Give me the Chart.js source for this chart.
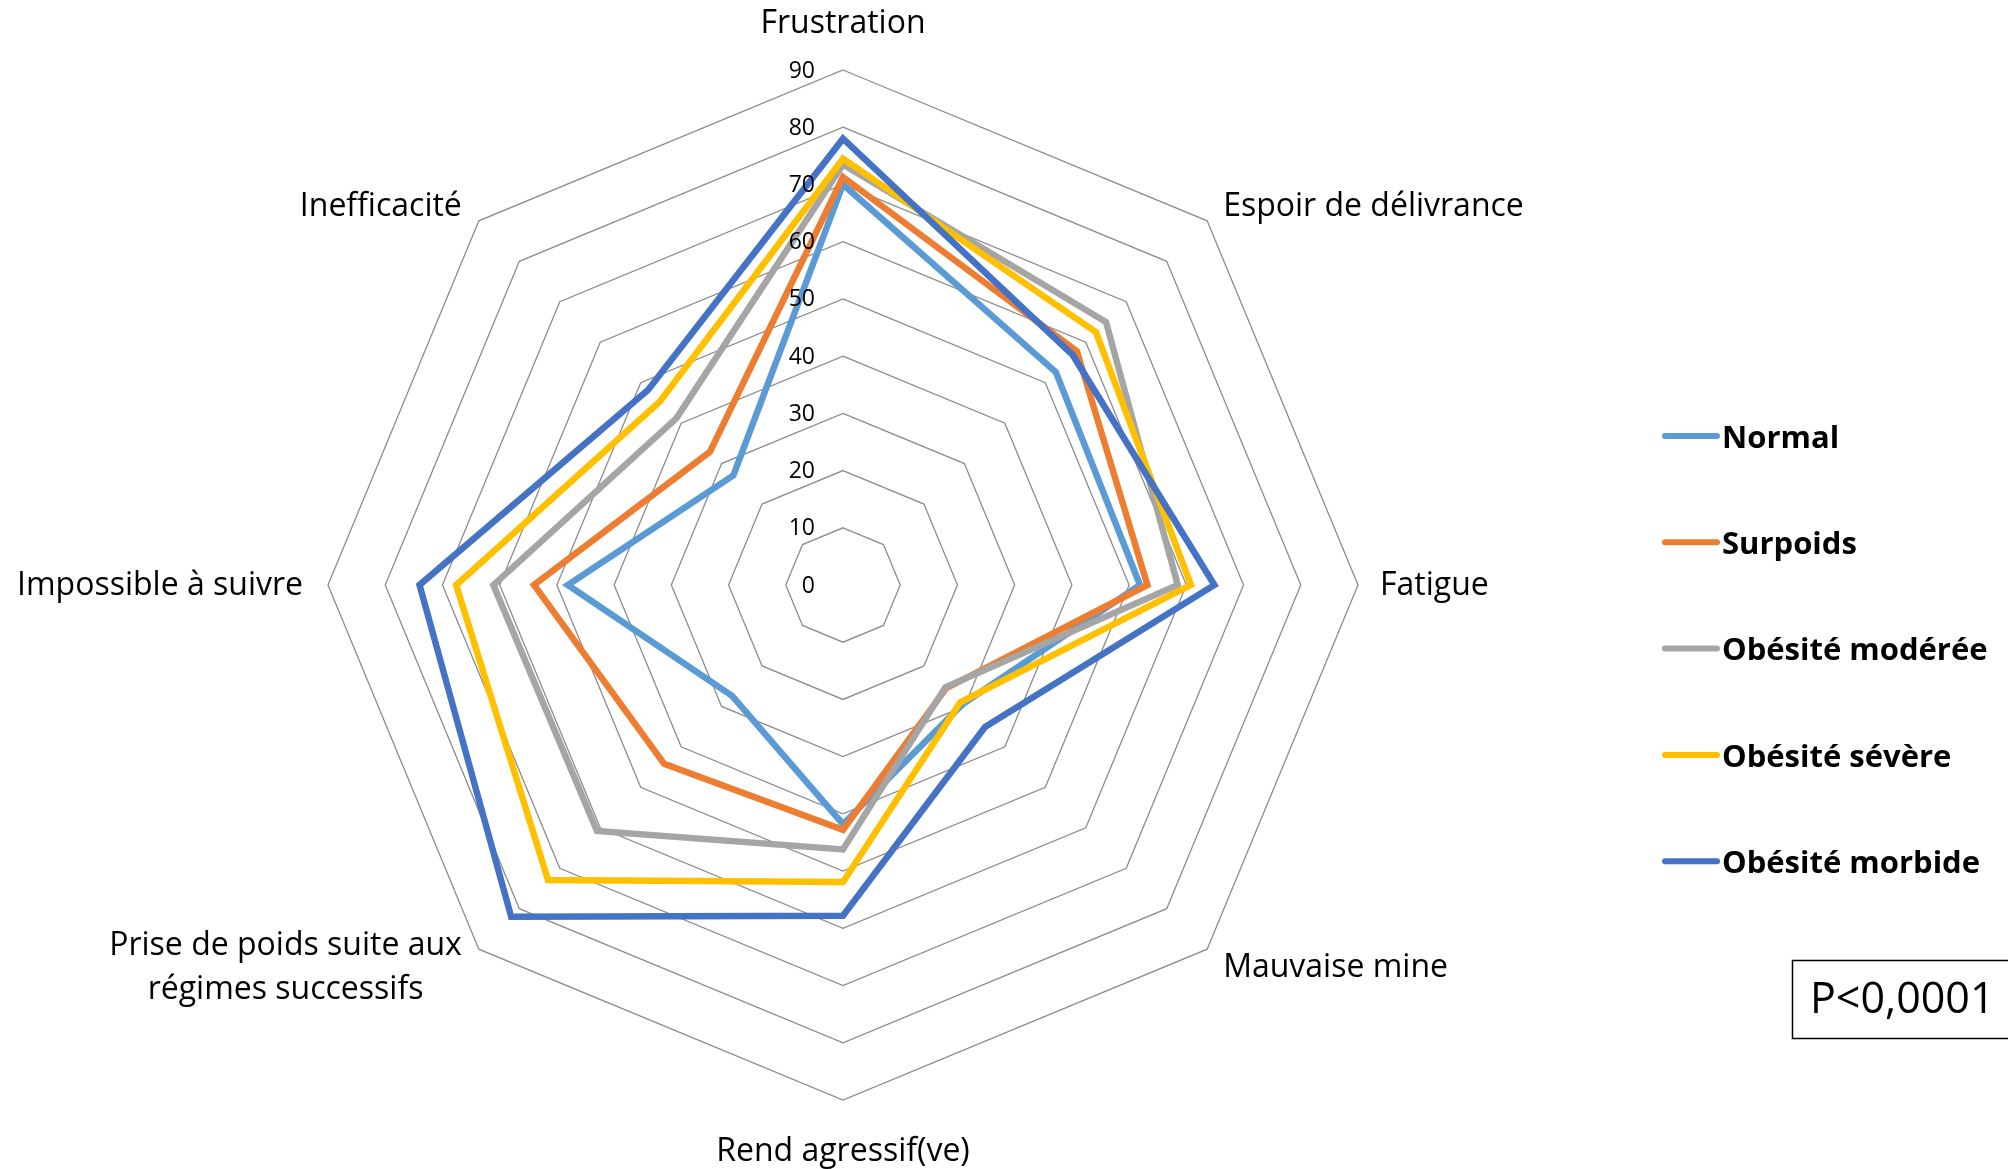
<!DOCTYPE html>
<html>
<head>
<meta charset="utf-8">
<script src="https://cdn.jsdelivr.net/npm/chart.js@4/dist/chart.umd.min.js"></script>
<style>
  html, body { margin: 0; padding: 0; background: #ffffff; }
  #wrap { position: relative; width: 2008px; height: 1169px; }
</style>
</head>
<body>
<div id="wrap"><canvas id="radar" width="2008" height="1169"></canvas></div>
<script>
// Axes of the radar, clockwise from the top
const categories = [
  'Frustration',
  'Espoir de délivrance',
  'Fatigue',
  'Mauvaise mine',
  'Rend agressif(ve)',
  ['Prise de poids suite aux', 'régimes successifs'],
  'Impossible à suivre',
  'Inefficacité'
];

// Scores per weight group
const normal   = [70.0, 52.6, 51.9, 29.5, 41.8, 27.4, 48.1, 27.1];
const surpoids = [71.3, 57.8, 53.2, 25.5, 42.8, 44.2, 54.0, 32.9];
const moderee  = [73.5, 65.0, 58.5, 25.3, 46.2, 60.8, 61.1, 41.2];
const severe   = [74.5, 62.5, 60.8, 29.0, 51.9, 72.9, 67.6, 45.3];
const morbide  = [78.0, 56.8, 64.9, 35.1, 57.8, 82.0, 74.0, 48.2];

const seriesNames = ['Normal', 'Surpoids', 'Obésité modérée', 'Obésité sévère', 'Obésité morbide'];
const seriesColors = ['#5B9BD5', '#ED7D31', '#A5A5A5', '#FFC000', '#4472C4'];
const seriesData = [normal, surpoids, moderee, severe, morbide];

const scaleMin = 0;
const scaleMax = 90;
const scaleStep = 10;
const pValueText = 'P<0,0001';

const FONT = '"Open Sans", "Noto Sans", sans-serif';

// Axis labels, tick values, legend and the p-value box
const decorations = {
  id: 'decorations',
  afterDraw(chart) {
    const ctx = chart.ctx;
    const scale = chart.scales.r;
    const R = scale.drawingArea;
    const cx = scale.xCenter, cy = scale.yCenter;

    // tick values, right-aligned just left of the vertical axis
    ctx.save();
    ctx.fillStyle = '#000000';
    ctx.font = '23px ' + FONT;
    ctx.textAlign = 'right';
    ctx.textBaseline = 'middle';
    scale.ticks.forEach(t => {
      const d = scale.getDistanceFromCenterForValue(t.value);
      ctx.fillText(String(t.value), cx - 28, cy - d + 1);
    });
    ctx.restore();

    // category labels around the outer ring
    ctx.save();
    ctx.fillStyle = '#000000';
    ctx.font = '32px ' + FONT;
    ctx.textBaseline = 'middle';
    const lineH = 44;
    chart.data.labels.forEach((label, i) => {
      const p = scale.getPointPosition(i, R);
      const lines = Array.isArray(label) ? label : [label];
      const dx = p.x - cx, dy = p.y - cy;
      let x, y, align;
      if (Math.abs(dx) < 1) {
        align = 'center';
        x = p.x;
        y = p.y + (dy < 0 ? -46 : 52);
      } else if (Math.abs(dy) < 1) {
        align = dx > 0 ? 'left' : 'right';
        x = p.x + (dx > 0 ? 22 : -25);
        y = p.y + 1;
      } else {
        align = dx > 0 ? 'left' : 'right';
        x = p.x + (dx > 0 ? 16 : -17);
        y = p.y + (dy < 0 ? -14 : 19);
      }
      const widths = lines.map(l => ctx.measureText(l).width);
      const maxW = Math.max(...widths);
      const y0 = y - (lines.length - 1) * lineH / 2;
      lines.forEach((l, k) => {
        let lx = x;
        if (lines.length > 1 && align !== 'center') {
          lx = align === 'left' ? x + maxW / 2 : x - maxW / 2;
          ctx.textAlign = 'center';
        } else {
          ctx.textAlign = align;
        }
        ctx.fillText(l, lx, y0 + k * lineH);
      });
    });
    ctx.restore();

    // legend
    ctx.save();
    ctx.font = 'bold 31px ' + FONT;
    ctx.textAlign = 'left';
    ctx.textBaseline = 'middle';
    ctx.lineCap = 'round';
    ctx.lineWidth = 6;
    chart.data.datasets.forEach((ds, i) => {
      const y = 436 + i * 106.3;
      ctx.strokeStyle = ds.borderColor;
      ctx.beginPath();
      ctx.moveTo(1665, y);
      ctx.lineTo(1717, y);
      ctx.stroke();
      ctx.fillStyle = '#000000';
      ctx.fillText(ds.label, 1722, y + 3);
    });
    ctx.restore();

    // p-value box
    ctx.save();
    ctx.strokeStyle = '#000000';
    ctx.lineWidth = 1.5;
    ctx.strokeRect(1792.5, 960.5, 230, 78);
    ctx.fillStyle = '#000000';
    ctx.font = '43px ' + FONT;
    ctx.textAlign = 'left';
    ctx.textBaseline = 'middle';
    ctx.fillText(pValueText, 1810, 1001);
    ctx.restore();
  }
};

const datasets = seriesNames.map((name, i) => ({
  label: name,
  data: seriesData[i],
  borderColor: seriesColors[i],
  backgroundColor: seriesColors[i],
  borderWidth: 6.5,
  borderJoinStyle: 'miter',
  fill: false,
  pointRadius: 0,
  pointHoverRadius: 0,
  tension: 0,
  order: seriesNames.length - i
}));

new Chart(document.getElementById('radar'), {
  type: 'radar',
  data: { labels: categories, datasets },
  options: {
    responsive: false,
    animation: false,
    layout: { padding: { left: 328, right: 650, top: 70, bottom: 69 } },
    plugins: { legend: { display: false }, tooltip: { enabled: false } },
    scales: {
      r: {
        min: scaleMin,
        max: scaleMax,
        beginAtZero: true,
        ticks: { stepSize: scaleStep, display: false },
        grid: { circular: false, color: '#8c8c8c', lineWidth: 1.3 },
        angleLines: { display: false },
        pointLabels: { display: false }
      }
    }
  },
  plugins: [decorations]
});
</script>
</body>
</html>
